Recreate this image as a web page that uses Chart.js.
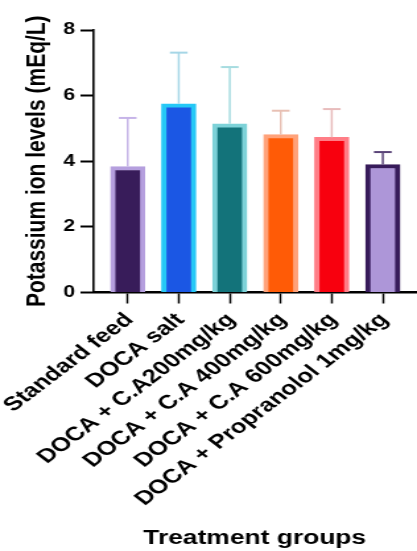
<!DOCTYPE html>
<html>
<head>
<meta charset="utf-8">
<script src="https://cdn.jsdelivr.net/npm/chart.js@4.4.0/dist/chart.umd.min.js"></script>
<style>
  html, body { margin: 0; padding: 0; background: #ffffff; }
  #c { display: block; }
</style>
</head>
<body>
<canvas id="c" width="316" height="551" style="width:417px;height:551px"></canvas>
<script>
// ---- data ----
const categories = ["Standard feed", "DOCA salt", "DOCA + C.A200mg/kg", "DOCA + C.A 400mg/kg", "DOCA + C.A 600mg/kg", "DOCA + Propranolol 1mg/kg"];
const meanValues = [3.84, 5.75, 5.14, 4.81, 4.73, 3.90];
const errorValues = [1.48, 1.56, 1.73, 0.73, 0.86, 0.38];
const yTickValues = [0, 2, 4, 6, 8];
const fillColors = ["#381c5a", "#1b57e4", "#13737a", "#ff5b06", "#f8000e", "#ad96d8"];
const edgeColors = ["#b59fde", "#25c8f6", "#7dd2d8", "#ffa27a", "#ff7d86", "#371b5a"];
const errorColors = ["#c6b4e8", "#a6d6e6", "#a6dce0", "#e8c0b4", "#e8bcbc", "#5a4478"];

const FONT = "'Liberation Sans', Arial, Helvetica, sans-serif";

const errorBarPlugin = {
  id: 'errorBars',
  afterDatasetsDraw(chart) {
    const ctx = chart.ctx;
    const xs = chart.scales.x, ys = chart.scales.y;
    ctx.save();
    meanValues.forEach((m, i) => {
      const x = xs.getPixelForValue(i);
      const yb = ys.getPixelForValue(m);
      const yt = ys.getPixelForValue(m + errorValues[i]);
      ctx.strokeStyle = errorColors[i];
      ctx.lineWidth = 1.5;
      ctx.beginPath();
      ctx.moveTo(x, yb);
      ctx.lineTo(x, yt);
      ctx.stroke();
      ctx.lineWidth = 2;
      ctx.beginPath();
      ctx.moveTo(x - 6.7, yt);
      ctx.lineTo(x + 6.7, yt);
      ctx.stroke();
    });
    ctx.restore();
  }
};

new Chart(document.getElementById('c'), {
  type: 'bar',
  data: {
    datasets: [{
      data: meanValues.map((v, i) => ({ x: i, y: v })),
      backgroundColor: fillColors,
      borderColor: edgeColors,
      borderWidth: 4,
      barThickness: 26
    }]
  },
  options: {
    responsive: false,
    animation: false,
    devicePixelRatio: 1,
    layout: { padding: { top: 30, left: 0, right: 1, bottom: 0 } },
    plugins: { legend: { display: false }, tooltip: { enabled: false } },
    scales: {
      x: {
        type: 'linear',
        offset: false,
        min: -0.667,
        max: 5.645,
        afterBuildTicks: (s) => { s.ticks = categories.map((c, i) => ({ value: i })); },
        afterFit: (s) => { s.height = 258.5; s.paddingLeft = 0; s.paddingRight = 0; },
        grid: { display: true, offset: false, drawOnChartArea: false, drawTicks: true, tickLength: 11, tickWidth: 1.5, tickColor: '#000' },
        border: { display: true, color: '#000', width: 2.5 },
        ticks: {
          autoSkip: false,
          minRotation: 45,
          maxRotation: 45,
          padding: 5,
          labelOffset: 1.3,
          color: '#000',
          font: { family: FONT, size: 19.5, weight: 'bold' },
          callback: (v) => categories[v]
        },
        title: {
          display: true,
          text: 'Treatment groups',
          color: '#000',
          font: { family: FONT, size: 20, weight: 'bold' },
          padding: { top: 0, bottom: 1 }
        }
      },
      y: {
        type: 'linear',
        min: 0,
        max: 8,
        afterBuildTicks: (s) => { s.ticks = yTickValues.map(v => ({ value: v })); },
        afterFit: (s) => { s.width = 71; },
        grid: { display: true, drawOnChartArea: false, drawTicks: true, tickLength: 10, tickWidth: 2, tickColor: '#000' },
        border: { display: true, color: '#000', width: 1.6 },
        ticks: {
          padding: 4,
          color: '#000',
          font: { family: FONT, size: 16, weight: 'bold' }
        },
        title: {
          display: true,
          text: 'Potassium ion levels (mEq/L)',
          color: '#000',
          font: { family: FONT, size: 21, weight: 'bold' },
          padding: { top: 16, bottom: 0 }
        }
      }
    }
  },
  plugins: [errorBarPlugin]
});
</script>
</body>
</html>
